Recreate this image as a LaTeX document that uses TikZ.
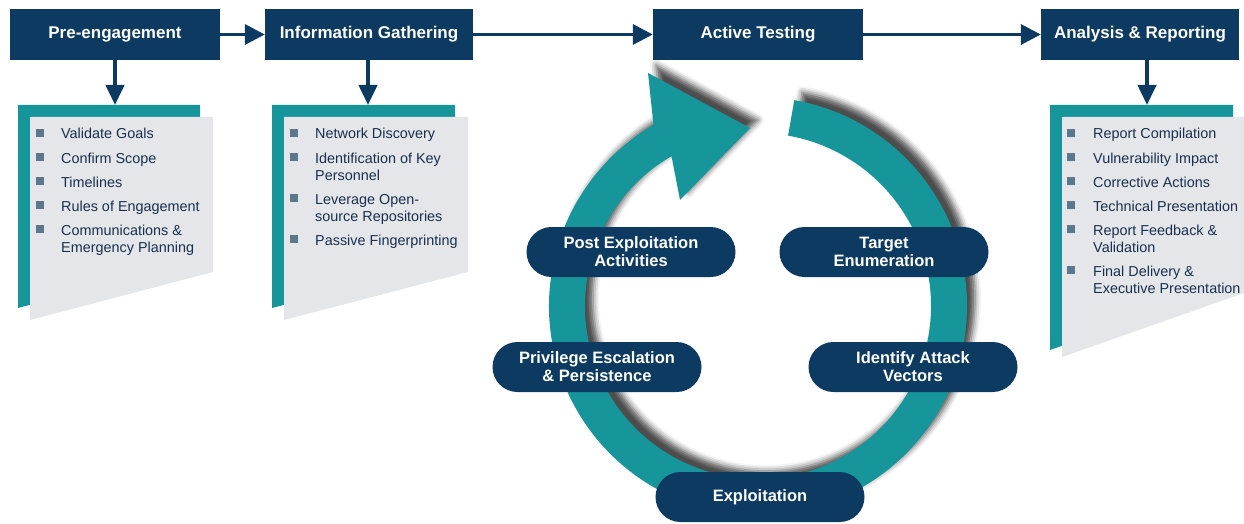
\documentclass[tikz,border=0pt]{standalone}
\usepackage{fontspec}
\setmainfont{Liberation Sans}
\usetikzlibrary{arrows.meta, shapes.misc, shadows.blur, calc}
\definecolor{navy}{RGB}{12,58,96}
\definecolor{ringteal}{RGB}{22,149,154}
\definecolor{panelteal}{RGB}{22,149,154}
\definecolor{panelgray}{RGB}{228,230,233}
\definecolor{bulletc}{RGB}{92,120,140}
\definecolor{itemtext}{RGB}{24,48,78}

\begin{document}
\begin{tikzpicture}[x=1pt, y=1pt, yscale=-1,
  phase/.style={fill=navy, text=white, font=\fontsize{17}{19}\selectfont\bfseries,
                minimum height=51pt, inner sep=0pt},
  flow/.style={navy, line width=3.5pt, -{Triangle[length=20pt, width=20pt]}},
  down/.style={navy, line width=4pt, -{Triangle[length=20pt, width=18pt]}},
  pill/.style={rounded rectangle, fill=navy, text=white,
               font=\fontsize{16.5}{18}\selectfont\bfseries,
               minimum width=209pt, minimum height=50pt, inner sep=0pt, align=center},
  item/.style={anchor=base west, inner sep=0pt, text=itemtext,
               font=\fontsize{14.4}{17}\selectfont},
  bullet/.style={fill=bulletc, minimum size=8pt, inner sep=0pt},
]
\useasboundingbox (0,0) rectangle (1244,524);

% ---- phase boxes along the top ----
\node[phase, minimum width=210pt] (pre) at (115,34.5) {Pre-engagement};
\node[phase, minimum width=208pt] (info) at (369,34.5) {Information Gathering};
\node[phase, minimum width=210pt] (act) at (758,34.5) {Active Testing};
\node[phase, minimum width=198pt] (ana) at (1140,34.5) {Analysis \& Reporting};

\draw[flow] (pre) -- (info);
\draw[flow] (info) -- (act);
\draw[flow] (act) -- (ana);

% ---- detail panels ----
\fill[panelteal] (18,105) -- (200,105) -- (200,260) -- (18,308) -- cycle;
\fill[panelgray] (30,117) -- (213,117) -- (213,272) -- (30,320) -- cycle;
\coordinate (prepanel) at (115,105);

\fill[panelteal] (272,105) -- (455,105) -- (455,260) -- (272,308) -- cycle;
\fill[panelgray] (284,117) -- (468,117) -- (468,272) -- (284,320) -- cycle;
\coordinate (infopanel) at (368,105);

\fill[panelteal] (1050,105) -- (1233,105) -- (1233,286) -- (1050,350) -- cycle;
\fill[panelgray] (1062,117) -- (1244,117) -- (1244,293) -- (1062,357) -- cycle;
\coordinate (anapanel) at (1147,105);

\draw[down] (pre.south -| prepanel) -- (prepanel);
\draw[down] (info.south -| infopanel) -- (infopanel);
\draw[down] (ana.south -| anapanel) -- (anapanel);

% ---- panel lists ----
\foreach \y/\t/\b [count=\i] in {139/Validate Goals/1, 163/Confirm Scope/1,
    187/Timelines/1, 211/Rules of Engagement/1, 235/Communications \&/1,
    252/Emergency Planning/0} {
  \node[item] (pre-\i) at (61,\y) {\t};
  \ifnum\b=1 \node[bullet] (preb-\i) at (40,\y-6) {}; \fi
}
\foreach \y/\t/\b [count=\i] in {139/Network Discovery/1, 163/Identification of Key/1,
    180/Personnel/0, 204/Leverage Open-/1, 221/source Repositories/0,
    245/Passive Fingerprinting/1} {
  \node[item] (info-\i) at (315,\y) {\t};
  \ifnum\b=1 \node[bullet] (infob-\i) at (294,\y-6) {}; \fi
}
\foreach \y/\t/\b [count=\i] in {139/Report Compilation/1, 163/Vulnerability Impact/1,
    187/Corrective Actions/1, 211/Technical Presentation/1, 235/Report Feedback \&/1,
    252/Validation/0, 276/Final Delivery \&/1, 293/Executive Presentation/0} {
  \node[item] (ana-\i) at (1093,\y) {\t};
  \ifnum\b=1 \node[bullet] (anab-\i) at (1071,\y-6) {}; \fi
}

% ---- active testing cycle ----
\coordinate (rc) at (758,306);
\fill[ringteal, blur shadow={shadow xshift=8pt, shadow yshift=8pt,
      shadow opacity=70, shadow blur radius=6pt}]
  ($(rc)+(-80:209)$) arc[start angle=-80, end angle=240, radius=209]
  -- (648,73) -- (750,128) -- (680,200)
  -- ($(rc)+(240:173)$) arc[start angle=240, end angle=-80, radius=173] -- cycle;

\node[pill] (post) at (631,252) {Post Exploitation\\Activities};
\node[pill] (target) at (884,252) {Target\\Enumeration};
\node[pill] (priv) at (597,367) {Privilege Escalation\\\& Persistence};
\node[pill] (vectors) at (913,367) {Identify Attack\\Vectors};
\node[pill] (exploit) at (760,497) {Exploitation};
\end{tikzpicture}
\end{document}
